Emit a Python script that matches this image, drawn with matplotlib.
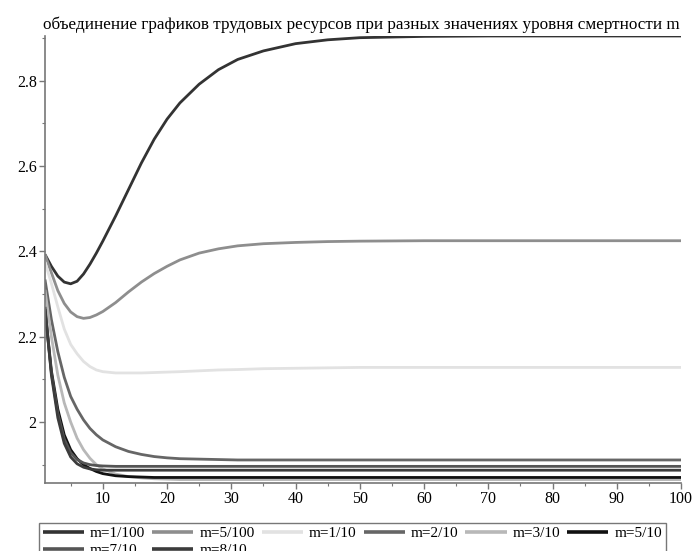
import numpy as np
from matplotlib import pyplot as plt

plt.rcParams['font.family'] = ['Liberation Serif', 'DejaVu Serif']

# time points (years)
t = [1, 2, 3, 4, 5, 6, 7, 8, 9, 10, 12, 14, 16, 18, 20, 22, 25, 28, 31, 35,
     40, 45, 50, 60, 70, 80, 90, 100]

# labour resources for each mortality level m
m_001 = [2.393, 2.365, 2.342, 2.328, 2.324, 2.330, 2.347, 2.370, 2.396, 2.424,
         2.483, 2.545, 2.607, 2.663, 2.710, 2.748, 2.792, 2.826, 2.850, 2.870,
         2.887, 2.896, 2.901, 2.904, 2.905, 2.905, 2.905, 2.905]
m_005 = [2.393, 2.350, 2.308, 2.278, 2.258, 2.247, 2.243, 2.245, 2.251, 2.259,
         2.280, 2.305, 2.328, 2.348, 2.365, 2.380, 2.396, 2.406, 2.413, 2.418,
         2.421, 2.423, 2.424, 2.425, 2.425, 2.425, 2.425, 2.425]
m_01 = [2.375, 2.325, 2.270, 2.218, 2.182, 2.160, 2.142, 2.130, 2.122, 2.118,
        2.115, 2.115, 2.115, 2.116, 2.117, 2.118, 2.120, 2.122, 2.123, 2.125,
        2.126, 2.127, 2.128, 2.128, 2.128, 2.128, 2.128, 2.128]
m_02 = [2.334, 2.240, 2.165, 2.105, 2.060, 2.030, 2.005, 1.985, 1.970, 1.958,
        1.942, 1.931, 1.924, 1.919, 1.916, 1.914, 1.913, 1.912, 1.911, 1.911,
        1.911, 1.911, 1.911, 1.911, 1.911, 1.911, 1.911, 1.911]
m_03 = [2.310, 2.200, 2.110, 2.045, 2.000, 1.962, 1.935, 1.915, 1.900, 1.890,
        1.878, 1.872, 1.869, 1.867, 1.866, 1.865, 1.865, 1.865, 1.865, 1.865,
        1.865, 1.865, 1.865, 1.865, 1.865, 1.865, 1.865, 1.865]
m_05 = [2.265, 2.120, 2.030, 1.970, 1.935, 1.914, 1.900, 1.891, 1.884, 1.879,
        1.874, 1.872, 1.871, 1.870, 1.870, 1.870, 1.870, 1.870, 1.870, 1.870,
        1.870, 1.870, 1.870, 1.870, 1.870, 1.870, 1.870, 1.870]
m_07 = [2.260, 2.115, 2.020, 1.960, 1.928, 1.912, 1.904, 1.900, 1.898, 1.897,
        1.896, 1.896, 1.896, 1.896, 1.896, 1.896, 1.896, 1.896, 1.896, 1.896,
        1.896, 1.896, 1.896, 1.896, 1.896, 1.896, 1.896, 1.896]
m_08 = [2.270, 2.110, 2.010, 1.950, 1.918, 1.902, 1.894, 1.890, 1.888, 1.887,
        1.887, 1.887, 1.887, 1.887, 1.887, 1.887, 1.887, 1.887, 1.887, 1.887,
        1.887, 1.887, 1.887, 1.887, 1.887, 1.887, 1.887, 1.887]

series = [m_001, m_005, m_01, m_02, m_03, m_05, m_07, m_08]
labels = ['m=1/100', 'm=5/100', 'm=1/10', 'm=2/10', 'm=3/10', 'm=5/10',
          'm=7/10', 'm=8/10']
colors = ['#333333', '#8e8e8e', '#e2e2e2', '#666666', '#b8b8b8', '#111111',
          '#555555', '#3c3c3c']

yticks = [2.0, 2.2, 2.4, 2.6, 2.8]
yticklabels = ['2', '2.2', '2.4', '2.6', '2.8']
xticks = [10, 20, 30, 40, 50, 60, 70, 80, 90, 100]

fig = plt.figure(figsize=(6.94, 5.51), dpi=100)
ax = fig.add_axes([0.0648, 0.1234, 0.9165, 0.8113])

lines = []
for y, lab, c in zip(series, labels, colors):
    ln, = ax.plot(t, y, color=c, lw=2.0, label=lab, solid_capstyle='butt')
    lines.append(ln)

ax.set_xlim(1, 100)
ax.set_ylim(1.857, 2.905)

ax.set_xticks(xticks)
ax.set_xticks(np.arange(5, 100, 10), minor=True)
ax.set_yticks(yticks)
ax.set_yticklabels(yticklabels)
ax.set_yticks([1.9, 2.1, 2.3, 2.5, 2.7, 2.9], minor=True)

for s in ['top', 'right']:
    ax.spines[s].set_visible(False)
for s in ['left', 'bottom']:
    ax.spines[s].set_color('#777777')
    ax.spines[s].set_linewidth(1.2)

ax.tick_params(which='major', direction='out', length=4, width=1,
               color='#777777', labelsize=11.5, pad=2)
ax.tick_params(which='minor', direction='out', length=2.5, width=0.8,
               color='#777777')

ax.set_title('объединение графиков трудовых ресурсов при разных значениях '
             'уровня смертности m', fontsize=12.3, x=0.498, y=1.0, pad=5)

# legend fills column by column, so reorder to get row-wise layout
order = [0, 6, 1, 7, 2, 3, 4, 5]
leg = fig.legend([lines[i] for i in order], [labels[i] for i in order],
                 loc='upper left', bbox_to_anchor=(0.056, 0.051), ncol=6,
                 fontsize=11, frameon=True, fancybox=False,
                 edgecolor='#555555', handlelength=2.7, handletextpad=0.4,
                 columnspacing=0.45, borderpad=0.25, labelspacing=0.2,
                 borderaxespad=0)
leg.get_frame().set_linewidth(1.0)
for h in leg.get_lines():
    h.set_linewidth(2.6)

fig.savefig('out.png', dpi=100)
